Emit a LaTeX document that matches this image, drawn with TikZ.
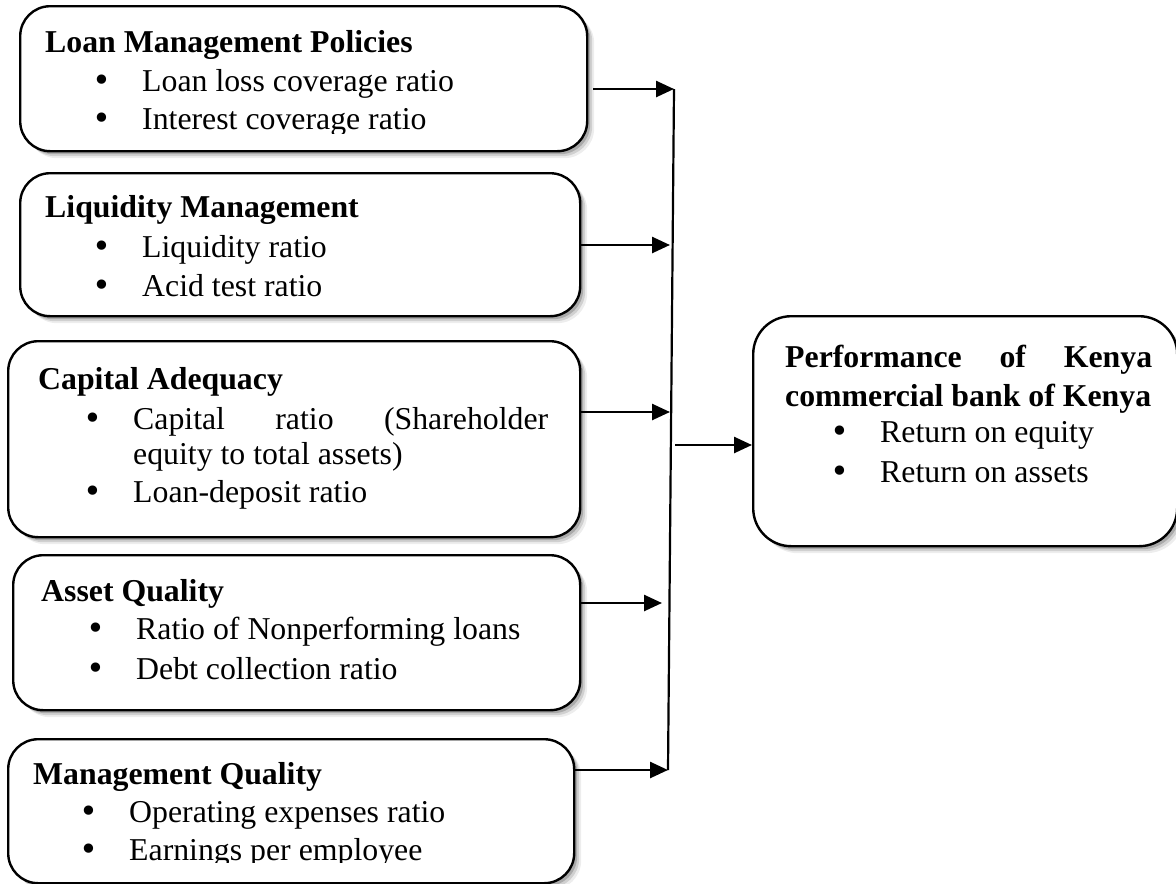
\documentclass[tikz,border=0pt]{standalone}
\usepackage{fontspec}
\setmainfont{Liberation Serif}
\newfontfamily\dejavu{DejaVu Sans}
\usetikzlibrary{arrows.meta,shadows}
\newcommand{\bul}{\llap{\makebox[0pt][c]{\dejavu\fontsize{32}{32}\selectfont •}\hspace{40pt}}}
\tikzset{
  box/.style={draw=black, line width=2.4pt, rounded corners=30pt, fill=white,
    anchor=north west, inner sep=0pt,
    drop shadow={shadow xshift=7pt, shadow yshift=-7pt, opacity=0.07, fill=black},
    drop shadow={shadow xshift=5pt, shadow yshift=-5pt, opacity=0.12, fill=black},
    drop shadow={shadow xshift=3pt, shadow yshift=-3pt, opacity=0.18, fill=black}},
  ttl/.style={anchor=base west, inner sep=0pt, font=\fontsize{31.8}{38}\selectfont\bfseries},
  itm/.style={anchor=base west, inner sep=0pt, font=\fontsize{31.8}{38}\selectfont},
  arr/.style={line width=2.6pt, -{Triangle[length=18pt,width=16pt]}},
  bus/.style={line width=2.2pt}
}
\begin{document}
\begin{tikzpicture}[x=1pt,y=-1pt]
\useasboundingbox (0,0) rectangle (1176,884);
% boxes
\node[box, minimum width=567pt, minimum height=145pt] (b1) at (19,5) {};
\node[box, minimum width=560pt, minimum height=143pt] (b2) at (19,172) {};
\node[box, minimum width=572pt, minimum height=196pt] (b3) at (7,340) {};
\node[box, minimum width=567pt, minimum height=155pt] (b4) at (12,554) {};
\node[box, minimum width=566pt, minimum height=144pt] (b5) at (7,738) {};
\node[box, rounded corners=38pt, minimum width=424pt, minimum height=230pt] (r) at (752,315) {};
% box 1
\node[ttl] (t1) at (45,52) {Loan Management Policies};
\node[itm] (t1a) at (142,91) {\bul Loan loss coverage ratio};
\begin{scope}
\clip (0,0) rectangle (1176,133);
\node[itm] (t1b) at (142,129) {\bul Interest coverage ratio};
\end{scope}
% box 2
\node[ttl] (t2) at (45,217) {Liquidity Management};
\node[itm] (t2a) at (142,257) {\bul Liquidity ratio};
\node[itm] (t2b) at (142,296) {\bul Acid test ratio};
% box 3
\node[ttl] (t3) at (38,389) {Capital Adequacy};
\node[itm] (t3a) at (133,429) {\bul\makebox[415pt][s]{Capital ratio (Shareholder}};
\node[itm] (t3b) at (133,464) {equity to total assets)};
\node[itm] (t3c) at (133,502) {\bul Loan-deposit ratio};
% box 4
\node[ttl] (t4) at (41,601) {Asset Quality};
\node[itm] (t4a) at (136,639) {\bul Ratio of Nonperforming loans};
\node[itm] (t4b) at (136,679) {\bul Debt collection ratio};
% box 5
\node[ttl] (t5) at (33,784) {Management Quality};
\node[itm] (t5a) at (129,822) {\bul Operating expenses ratio};
\begin{scope}
\clip (0,0) rectangle (1176,862);
\node[itm] (t5b) at (129,860) {\bul Earnings per employee};
\end{scope}
% right box
\node[ttl] (tr) at (785,367) {\makebox[367pt][s]{Performance of Kenya}};
\node[ttl] (tr2) at (785,406) {commercial bank of Kenya};
\node[itm] (tra) at (880,442) {\bul Return on equity};
\node[itm] (trb) at (880,482) {\bul Return on assets};
% bus
\coordinate (bt) at (674,89);
\coordinate (bb) at (668,770);
\coordinate (j2) at (670,245);
\coordinate (j3) at (670,412);
\coordinate (j4) at (662,603);
\coordinate (j5) at (668,770);
\coordinate (jo) at (675,445);
\draw[bus] (bt) -- (bb);
\draw[arr] ([xshift=5pt]b1.east |- bt) -- (bt);
\draw[arr] (b2.east |- j2) -- (j2);
\draw[arr] (b3.east |- j3) -- (j3);
\draw[arr] (b4.east |- j4) -- (j4);
\draw[arr] (b5.east |- j5) -- (j5);
\draw[arr] (jo) -- (r.west |- jo);
\end{tikzpicture}
\end{document}
